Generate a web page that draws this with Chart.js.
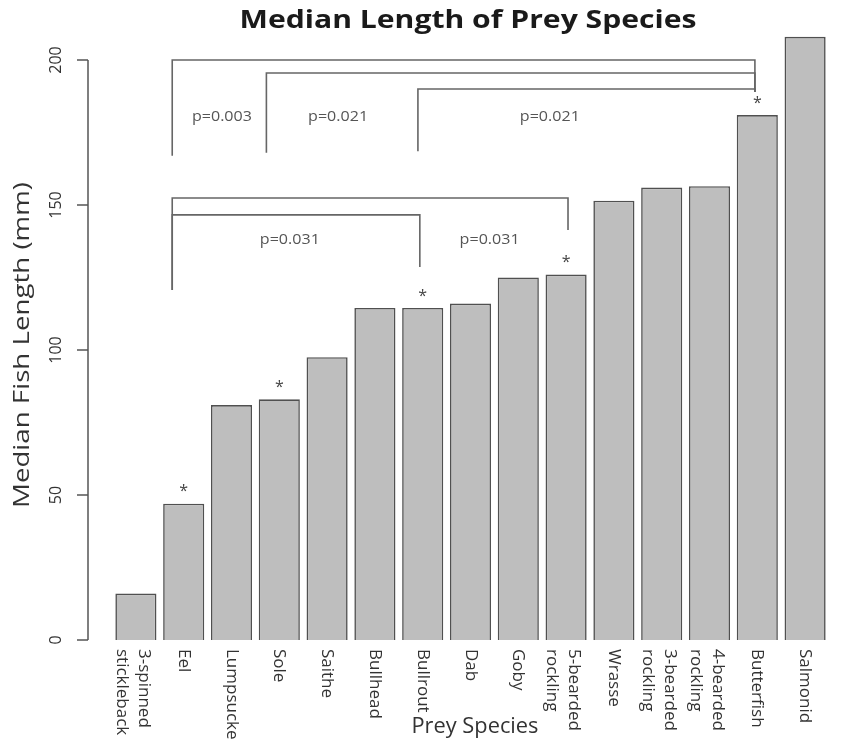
<!DOCTYPE html>
<html>
<head>
<meta charset="utf-8">
<script src="https://cdn.jsdelivr.net/npm/chart.js@4.4.1/dist/chart.umd.min.js"></script>
<style>
html, body { margin: 0; padding: 0; background: #fff; }
#wrap { width: 859px; height: 741px; position: relative; }
</style>
</head>
<body>
<div id="wrap"><canvas id="chart"></canvas></div>
<script>
// data
const species = [['3-spinned', 'stickleback'], 'Eel', 'Lumpsucker', 'Sole', 'Saithe', 'Bullhead', 'Bullrout', 'Dab', 'Goby',
    ['5-bearded', 'rockling'], 'Wrasse', ['3-bearded', 'rockling'], ['4-bearded', 'rockling'], 'Butterfish', 'Salmonid'];
const medianLength = [16, 47, 81, 83, 97.5, 114.5, 114.5, 116, 125, 126, 151.5, 156, 156.5, 181, 208];
const yTicks = [0, 50, 100, 150, 200];

// significance brackets (x in category units, y in mm)
const bracketFrom = [0.76, 2.73, 5.9, 0.76, 0.76];
const bracketTo = [12.95, 12.95, 12.95, 9.04, 5.94];
const bracketTop = [200, 195.5, 190, 152.4, 146.6];
const bracketLeftEnd = [167, 168, 168.5, 120.7, 120.7];
const bracketRightEnd = [189, 189, 189, 141.4, 128.6];
const pLabels = ['p=0.003', 'p=0.021', 'p=0.021', 'p=0.031', 'p=0.031'];
const pLabelX = [1.8, 4.23, 8.66, 3.22, 7.4];
const pLabelY = [180.5, 180.5, 180.5, 138, 138];
const starIdx = [1, 3, 6, 9, 13];

const FONT = '"Open Sans", "DejaVu Sans", sans-serif';
const AXIS_COLOR = '#555';

// text stretched along its own direction to a given length
function fitText(ctx, text, cx, cy, angle, len) {
    const w = ctx.measureText(text).width;
    ctx.save();
    ctx.translate(cx, cy);
    ctx.rotate(angle);
    ctx.scale(len / w, 1);
    ctx.fillText(text, 0, 0);
    ctx.restore();
}

const annotations = {
    id: 'annotations',
    afterDraw(chart) {
        const {ctx, chartArea, scales: {x, y}} = chart;
        ctx.save();

        // y axis line + ticks (R style, detached from bars)
        const ax = chartArea.left - 24;
        ctx.strokeStyle = AXIS_COLOR;
        ctx.lineWidth = 1.5;
        ctx.beginPath();
        ctx.moveTo(ax, y.getPixelForValue(yTicks[0]));
        ctx.lineTo(ax, y.getPixelForValue(yTicks[yTicks.length - 1]));
        yTicks.forEach(v => {
            const py = y.getPixelForValue(v);
            ctx.moveTo(ax - 11, py);
            ctx.lineTo(ax, py);
        });
        ctx.stroke();

        // brackets
        ctx.lineWidth = 1.6;
        ctx.strokeStyle = '#666';
        for (let i = 0; i < bracketFrom.length; i++) {
            const x1 = x.getPixelForValue(bracketFrom[i]);
            const x2 = x.getPixelForValue(bracketTo[i]);
            ctx.beginPath();
            ctx.moveTo(x1, y.getPixelForValue(bracketLeftEnd[i]));
            ctx.lineTo(x1, y.getPixelForValue(bracketTop[i]));
            ctx.lineTo(x2, y.getPixelForValue(bracketTop[i]));
            ctx.lineTo(x2, y.getPixelForValue(bracketRightEnd[i]));
            ctx.stroke();
        }

        ctx.fillStyle = '#555';
        ctx.font = '14px ' + FONT;
        ctx.textAlign = 'center';
        ctx.textBaseline = 'middle';
        pLabels.forEach((t, i) => {
            fitText(ctx, t, x.getPixelForValue(pLabelX[i]), y.getPixelForValue(pLabelY[i]), 0, 60);
        });

        // asterisks
        ctx.font = '16px ' + FONT;
        ctx.fillStyle = '#444';
        starIdx.forEach(i => {
            ctx.fillText('*', x.getPixelForValue(i), y.getPixelForValue(medianLength[i]) - 12);
        });

        // x category labels, rotated to read top-down
        ctx.fillStyle = '#333';
        ctx.font = '17px ' + FONT;
        ctx.textAlign = 'left';
        species.forEach((lab, i) => {
            const lines = Array.isArray(lab) ? lab : [lab];
            const shift = lines.length > 1 ? 3 : 0;
            ctx.save();
            ctx.translate(x.getPixelForValue(i), chartArea.bottom + 9);
            ctx.rotate(Math.PI / 2);
            lines.forEach((ln, k) => {
                ctx.fillText(ln, 0, (k - (lines.length - 1) / 2) * 22 + shift);
            });
            ctx.restore();
        });

        // axis titles
        ctx.textAlign = 'center';
        ctx.fillStyle = '#333';
        ctx.font = '21px ' + FONT;
        fitText(ctx, 'Prey Species', 475, 727, 0, 127);
        ctx.font = '22px ' + FONT;
        fitText(ctx, 'Median Fish Length (mm)', 23, 345, -Math.PI / 2, 326);

        // main title
        ctx.font = 'bold 25px ' + FONT;
        ctx.fillStyle = '#1a1a1a';
        fitText(ctx, 'Median Length of Prey Species', 468, 21, 0, 457);

        ctx.restore();
    }
};

new Chart(document.getElementById('chart'), {
    type: 'bar',
    data: {
        labels: species,
        datasets: [{
            data: medianLength,
            backgroundColor: '#bebebe',
            borderColor: '#505050',
            borderWidth: 1.6,
            barPercentage: 0.86,
            categoryPercentage: 1
        }]
    },
    options: {
        responsive: true,
        maintainAspectRatio: false,
        animation: false,
        layout: {padding: {top: 31, right: 30, bottom: 101, left: 0}},
        scales: {
            x: {
                display: false
            },
            y: {
                min: 0,
                max: 210,
                afterFit: scale => {
                    scale.width = 112;
                    scale.paddingTop = 0;
                    scale.paddingBottom = 0;
                },
                afterBuildTicks: scale => { scale.ticks = yTicks.map(v => ({value: v})); },
                grid: {display: false},
                border: {display: false},
                ticks: {
                    minRotation: 90,
                    maxRotation: 90,
                    crossAlign: 'center',
                    padding: 34,
                    color: '#333',
                    font: {family: FONT, size: 16}
                }
            }
        },
        plugins: {
            legend: {display: false},
            tooltip: {enabled: false}
        }
    },
    plugins: [annotations]
});
</script>
</body>
</html>
